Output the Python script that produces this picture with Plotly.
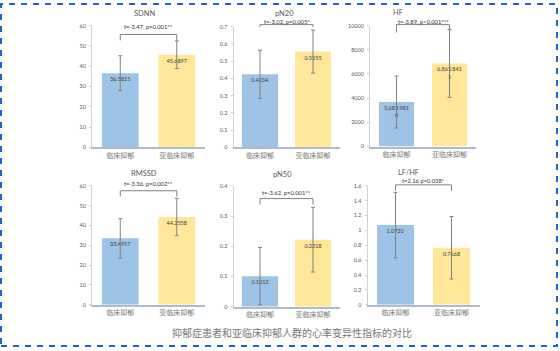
import plotly.graph_objects as go

W, H = 560, 351

categories = ["临床抑郁", "亚临床抑郁"]

sdnn_mean = [36.5815, 45.6897]
sdnn_sd = [8.6, 6.8]
pn20_mean = [0.4234, 0.5555]
pn20_sd = [0.14, 0.125]
hf_mean = [3683.9810, 6865.8415]
hf_sd = [2150, 2800]
rmssd_mean = [33.4957, 44.2558]
rmssd_sd = [9.9, 9.4]
pn50_mean = [0.1012, 0.2218]
pn50_sd = [0.095, 0.107]
lfhf_mean = [1.0720, 0.7668]
lfhf_sd = [0.44, 0.42]

titles = ["SDNN", "pN20", "HF", "RMSSD", "pN50", "LF/HF"]
stat_texts = [
    "t=-3.47, p=0.001**",
    "t=-3.02, p=0.005*",
    "t=-3.89, p<0.001***",
    "t=-3.36, p=0.002**",
    "t=-3.62, p=0.001**",
    "t=2.16 p=0.038*",
]
y_max = [60, 0.7, 10000, 60, 0.4, 1.6]
y_dtick = [10, 0.1, 2000, 10, 0.1, 0.2]
caption = "抑郁症患者和亚临床抑郁人群的心率变异性指标的对比"

means = [sdnn_mean, pn20_mean, hf_mean, rmssd_mean, pn50_mean, lfhf_mean]
sds = [sdnn_sd, pn20_sd, hf_sd, rmssd_sd, pn50_sd, lfhf_sd]

# layout (pixel geometry)
x_dom_px = [(92, 205), (233.5, 339.5), (370, 476), (92, 205), (233.5, 339.5), (367.5, 479.5)]
y_dom_px = [(23, 147), (24, 147), (23, 146), (186, 307), (186, 309), (186, 307)]
title_px = [(144, 10.5), (284, 10.5), (398, 9.5), (144, 173.5), (282, 174.5), (408, 172.5)]
# (text y, bracket top y, leg bottom y)
bracket_px = [(24, 32, 38), (19, 22, 24.5), (18.5, 22, 30), (184, 191, 197), (193, 199, 205), (181, 185, 191)]
bar_w = [0.65, 0.68, 0.66, 0.65, 0.68, 0.66]

BLUE = "#9DC3E6"
YELLOW = "#FFE699"
TXT = "#595959"
LIGHT = "#767676"
FONT = "Lato, Noto Sans CJK SC, sans-serif"
CJK = "Noto Sans CJK SC"


def px_x(v):
    return v / W


def px_y(v):
    return 1 - v / H


def fmt_label(i, v):
    if i == 2:
        s = f"{v:,.4f}"
        return s[:-1] + "<br>" + s[-1]
    return f"{v:.4f}"


fig = go.Figure()
shapes = []
annotations = []

for i in range(6):
    n = i + 1
    xa = "x" if n == 1 else f"x{n}"
    ya = "y" if n == 1 else f"y{n}"
    fig.add_trace(go.Bar(
        x=categories,
        y=means[i],
        width=bar_w[i],
        marker=dict(color=[BLUE, YELLOW], line=dict(width=0)),
        error_y=dict(type="data", array=sds[i], visible=True,
                     color="#808080", thickness=1, width=2),
        text=[fmt_label(i, v) for v in means[i]],
        textposition="inside",
        insidetextanchor="end",
        textangle=0,
        textfont=dict(size=5.5, color="#404040", family=FONT),
        xaxis=xa, yaxis=ya,
        showlegend=False,
        hoverinfo="skip",
    ))
    xd = x_dom_px[i]
    yd = y_dom_px[i]
    xkey = "xaxis" if n == 1 else f"xaxis{n}"
    ykey = "yaxis" if n == 1 else f"yaxis{n}"
    fig.update_layout({
        xkey: dict(
            domain=[px_x(xd[0]), px_x(xd[1])],
            anchor=ya,
            type="category",
            showline=True, linecolor="#AEBBCC", linewidth=1.5,
            ticks="", showgrid=False, zeroline=False,
            tickfont=dict(size=7, color=LIGHT, family=CJK),
            fixedrange=True,
        ),
        ykey: dict(
            domain=[px_y(yd[1]), px_y(yd[0])],
            anchor=xa,
            range=[0, y_max[i]],
            dtick=y_dtick[i],
            tick0=0,
            tickformat="d" if i == 2 else "",
            showline=True, linecolor="#C9D2DE", linewidth=1,
            ticks="outside", ticklen=2, tickcolor="#C9D2DE",
            showgrid=False, zeroline=False,
            tickfont=dict(size=5.5, color=TXT, family=FONT),
            ticklabelstandoff=2,
            fixedrange=True,
        ),
    })
    # title
    tx, ty = title_px[i]
    annotations.append(dict(
        text=titles[i], x=px_x(tx), y=px_y(ty), xref="paper", yref="paper",
        xanchor="center", yanchor="middle", showarrow=False,
        font=dict(size=7.5, color=TXT, family=FONT),
    ))
    # stats bracket
    t_y, top_y, leg_y = bracket_px[i]
    annotations.append(dict(
        text=stat_texts[i], x=0.5, y=px_y(t_y), xref=xa, yref="paper",
        xanchor="center", yanchor="middle", showarrow=False,
        font=dict(size=5.8, color="#333333", family=FONT),
    ))
    for (x0, y0, x1, y1) in [(0, leg_y, 0, top_y), (0, top_y, 1, top_y), (1, top_y, 1, leg_y)]:
        shapes.append(dict(
            type="line", xref=xa, yref="paper",
            x0=x0, x1=x1, y0=px_y(y0), y1=px_y(y1),
            line=dict(color="#808080", width=1),
        ))

annotations.append(dict(
    text=caption, x=px_x(292), y=px_y(335), xref="paper", yref="paper",
    xanchor="center", yanchor="middle", showarrow=False,
    font=dict(size=10, color=LIGHT, family=CJK),
))

shapes.append(dict(
    type="rect", xref="paper", yref="paper",
    x0=px_x(1), x1=px_x(557), y0=px_y(349), y1=px_y(1),
    line=dict(color="#1F62D2", width=2, dash="6px,6px"),
    fillcolor="rgba(0,0,0,0)",
))

fig.update_layout(
    width=W, height=H,
    margin=dict(l=0, r=0, t=0, b=0),
    paper_bgcolor="white", plot_bgcolor="white",
    shapes=shapes, annotations=annotations,
    font=dict(family=FONT, color=TXT),
    uniformtext=dict(mode=False),
)

fig.write_html("out.html", config={"displayModeBar": False})
